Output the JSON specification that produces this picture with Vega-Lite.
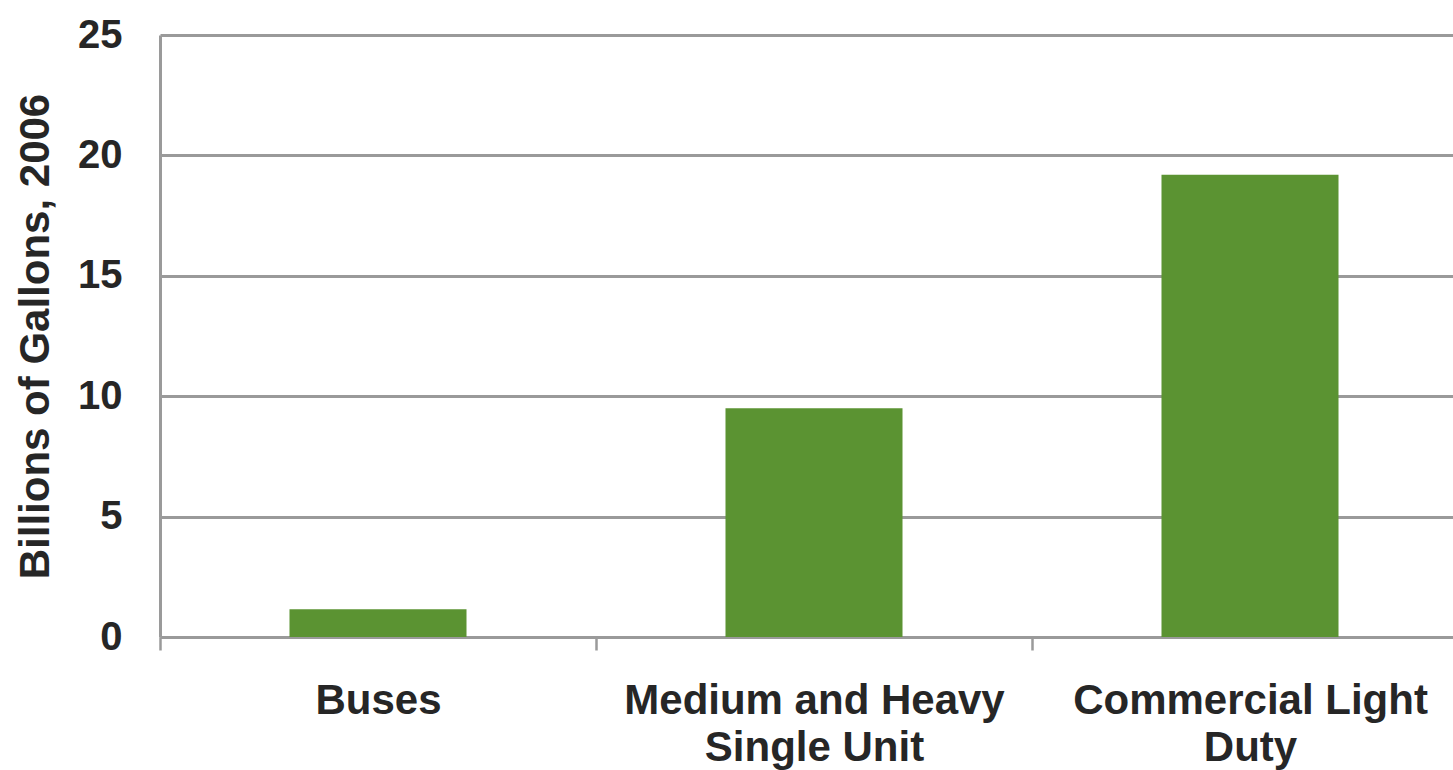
{
  "$schema": "https://vega.github.io/schema/vega-lite/v6.json",
  "autosize": "none",
  "padding": {"left": 160, "top": 35, "right": 0, "bottom": 133},
  "width": 1308,
  "height": 602,
  "background": "white",
  "data": {
    "values": [
      {"vehicle": "Buses", "gallons": 1.15},
      {"vehicle": "Medium and Heavy Single Unit", "gallons": 9.5},
      {"vehicle": "Commercial Light Duty", "gallons": 19.2}
    ]
  },
  "mark": {"type": "bar", "color": "#5b9332", "width": {"band": 0.406}},
  "encoding": {
    "x": {
      "field": "vehicle",
      "type": "nominal",
      "sort": null,
      "scale": {"paddingInner": 0, "paddingOuter": 0},
      "axis": {
        "title": null,
        "labelAngle": 0,
        "labelExpr": "datum.value == 'Medium and Heavy Single Unit' ? ['Medium and Heavy', 'Single Unit'] : datum.value == 'Commercial Light Duty' ? ['Commercial Light', 'Duty'] : datum.value",
        "labelFont": "Liberation Sans, Arial",
        "labelFontWeight": "bold",
        "labelFontSize": 42,
        "labelLineHeight": 47,
        "labelColor": "#262626",
        "labelLimit": 0,
        "labelPadding": 30,
        "labelOverlap": false,
        "tickBand": "extent",
        "tickSize": 13,
        "tickColor": "#9a9a9a",
        "tickWidth": 2.5,
        "domainColor": "#9a9a9a",
        "domainWidth": 3
      }
    },
    "y": {
      "field": "gallons",
      "type": "quantitative",
      "scale": {"domain": [0, 25], "nice": false},
      "axis": {
        "title": "Billions of Gallons, 2006",
        "titleFont": "Liberation Sans, Arial",
        "titleFontWeight": "bold",
        "titleFontSize": 42,
        "titleColor": "#262626",
        "titlePadding": 20,
        "values": [0, 5, 10, 15, 20, 25],
        "labelFont": "Liberation Sans, Arial",
        "labelFontWeight": "bold",
        "labelFontSize": 40,
        "labelColor": "#262626",
        "labelPadding": 38,
        "ticks": false,
        "grid": true,
        "gridColor": "#9a9a9a",
        "gridWidth": 3,
        "domainColor": "#9a9a9a",
        "domainWidth": 3
      }
    }
  },
  "config": {"view": {"stroke": null}}
}
